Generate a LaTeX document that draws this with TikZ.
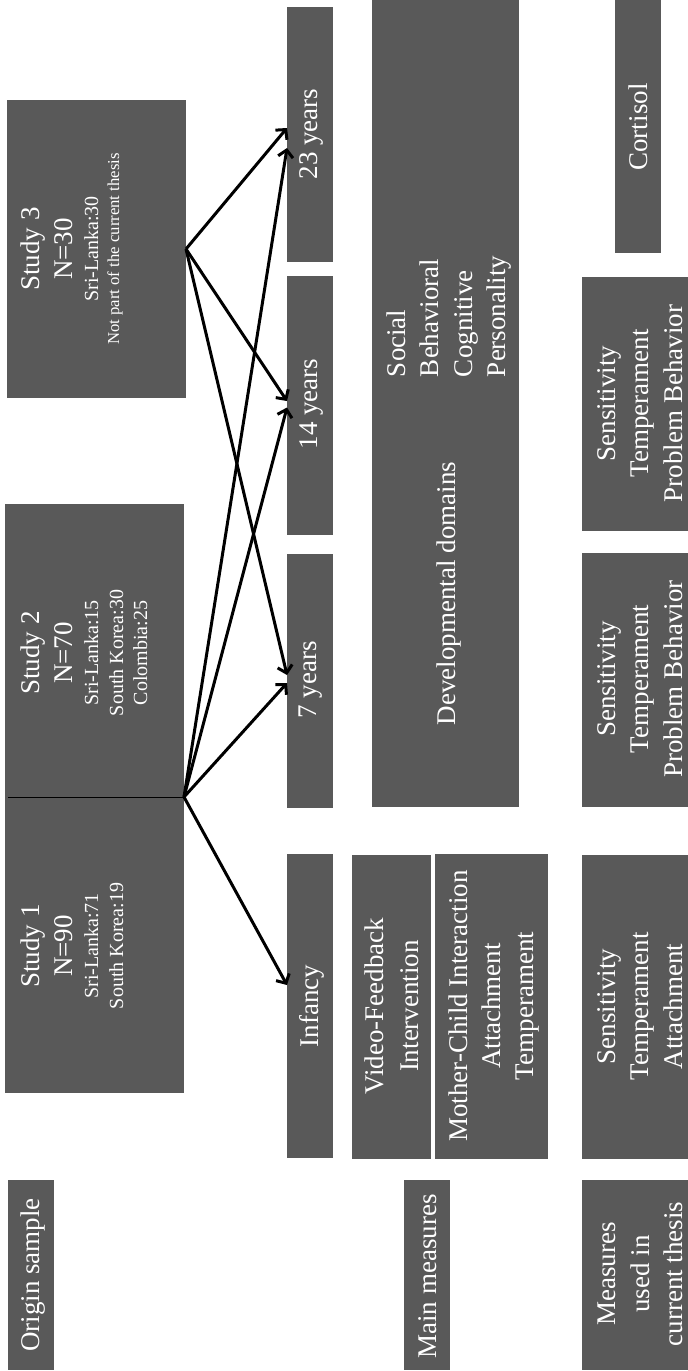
\documentclass[tikz,border=0pt]{standalone}
\usepackage{fontspec}
\setmainfont{Liberation Serif}
\usetikzlibrary{arrows.meta}
\definecolor{boxgray}{HTML}{595959}
\newcommand\smallf{\fontsize{20}{24}\selectfont}
\newcommand\tinyf{\fontsize{16.7}{20}\selectfont}
\begin{document}
\begin{tikzpicture}[x=1pt,y=-1pt,
  box/.style={fill=boxgray, draw=none, inner sep=0pt, outer sep=0pt},
  txt/.style={text=white, inner sep=0pt, outer sep=0pt, rotate=90, align=center, font=\fontsize{27}{33}\selectfont},
  arr/.style={line width=3pt, -{Straight Barb[length=7pt,width=15pt]}},
]
\useasboundingbox (0,0) rectangle (688,1371);
% boxes
\node[box, minimum width=179pt, minimum height=298pt] (s3) at (96.5,249) {};
\node[box, minimum width=179pt, minimum height=293pt] (s2) at (94.5,650.5) {};
\node[box, minimum width=179pt, minimum height=296pt] (s1) at (94.5,945) {};
\node[box, minimum width=46pt, minimum height=190pt] (orig) at (31,1275) {};
\node[box, minimum width=46pt, minimum height=255pt] (y23) at (310,134.5) {};
\node[box, minimum width=46pt, minimum height=259pt] (y14) at (310,405.5) {};
\node[box, minimum width=46pt, minimum height=254pt] (y7) at (310,681) {};
\node[box, minimum width=46pt, minimum height=304pt] (inf) at (310,1006) {};
\node[box, minimum width=147pt, minimum height=807pt] (dev) at (445.5,403.5) {};
\node[box, minimum width=79pt, minimum height=304pt] (vfi) at (391.5,1007) {};
\node[box, minimum width=113pt, minimum height=305pt] (mci) at (491.5,1006.5) {};
\node[box, minimum width=46pt, minimum height=190pt] (mainm) at (427,1275) {};
\node[box, minimum width=46pt, minimum height=253pt] (cort) at (638,126.5) {};
\node[box, minimum width=106pt, minimum height=254pt] (stpa) at (635,404) {};
\node[box, minimum width=106pt, minimum height=254pt] (stpb) at (635,680) {};
\node[box, minimum width=106pt, minimum height=304pt] (sta) at (635,1007) {};
\node[box, minimum width=106pt, minimum height=190pt] (meas) at (635,1275) {};
% divider between study 2 and study 1
\draw[line width=0.8pt] ([xshift=3pt]s2.south west) -- (s2.south east);
% texts
\node[txt] (t3) at (71.6,249) {Study 3\\N=30\\[-7pt]{\smallf Sri-Lanka:30}\\[-12pt]{\tinyf Not part of the current thesis}};
\node[txt] (t2) at (83.8,653) {Study 2\\N=70\\[-7pt]{\smallf Sri-Lanka:15}\\[-8pt]{\smallf South Korea:30}\\[-9pt]{\smallf Colombia:25}};
\node[txt] (t1) at (71.8,946) {Study 1\\N=90\\[-7pt]{\smallf Sri-Lanka:71}\\[-8pt]{\smallf South Korea:19}};
\node[txt] (torig) at (33.5,1275) {Origin sample};
\node[txt] (t23) at (311,134) {23 years};
\node[txt] (t14) at (311,404) {14 years};
\node[txt] (t7) at (311,680) {7 years};
\node[txt] (tinf) at (311.5,1006) {Infancy};
\node[txt] (tdev) at (448.8,593.5) {Developmental domains};
\node[txt, align=left, anchor=west] (tdom) at (448.7,377) {Social\\Behavioral\\[1pt]Cognitive\\Personality};
\node[txt] (tvfi) at (391.3,1006) {Video-Feedback\\[2pt]Intervention};
\node[txt] (tmci) at (493.8,1006) {Mother-Child Interaction\\Attachment\\Temperament};
\node[txt] (tmain) at (428,1276.5) {Main measures};
\node[txt] (tcort) at (638.5,127) {Cortisol};
\node[txt] (tstpa) at (640,403.5) {Sensitivity\\Temperament\\[1pt]Problem Behavior};
\node[txt] (tstpb) at (640,679) {Sensitivity\\Temperament\\[1pt]Problem Behavior};
\node[txt] (tsta) at (640,1006.5) {Sensitivity\\Temperament\\[1pt]Attachment};
\node[txt] (tmeas) at (640.5,1274) {Measures\\[1pt]used in\\current thesis};
% arrows
\draw[arr] (s3.east) -- ([yshift=6.5pt]y23.west);
\draw[arr] (s3.east) -- ([yshift=4.5pt]y14.west);
\draw[arr] (s3.east) -- ([yshift=6pt]y7.west);
\draw[arr] (s2.south east) -- ([yshift=21pt]inf.west);
\draw[arr] (s2.south east) -- ([yshift=-2pt]y7.west);
\draw[arr] (s2.south east) -- ([yshift=-2pt]y14.west);
\draw[arr] (s2.south east) -- ([yshift=-13.5pt]y23.west);
\end{tikzpicture}
\end{document}
